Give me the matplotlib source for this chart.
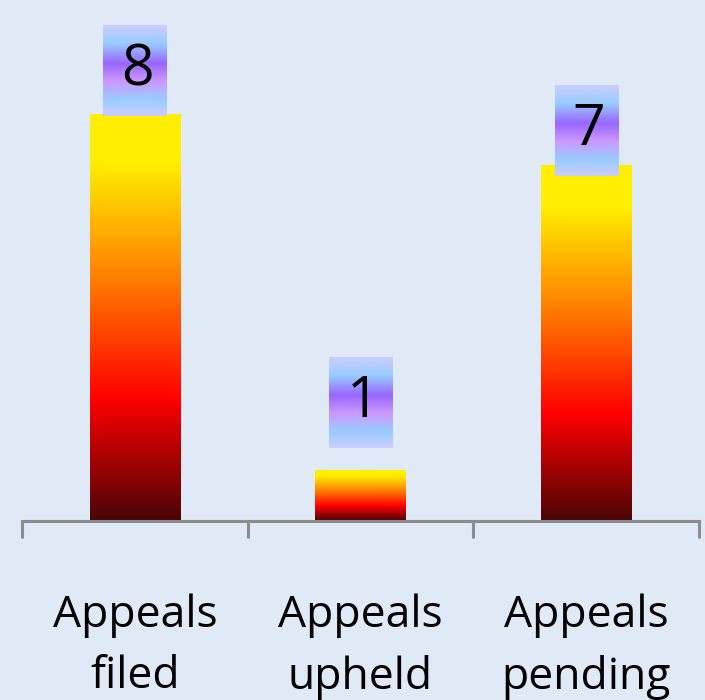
import matplotlib
matplotlib.use("Agg")
import matplotlib.pyplot as plt
import numpy as np
from matplotlib.colors import LinearSegmentedColormap

# ---- data ----
categories = ["Appeals\nfiled", "Appeals\nupheld", "Appeals\npending"]
values = [8, 1, 7]
value_labels = ["8", "1", "7"]

# ---- style / layout ----
label_offsets = [0.85, 1.32, 0.67]
bg = "#dfeaf6"
bar_cmap = LinearSegmentedColormap.from_list(
    "fire",
    [(0.0, "#4a0505"), (0.3, "#ff0000"), (0.6, "#ff8000"), (0.88, "#ffee00"), (1.0, "#ffee00")])
box_cmap = LinearSegmentedColormap.from_list(
    "lbl",
    [(0.0, "#ccccff"), (0.2, "#99ccff"), (0.42, "#9966ff"), (0.62, "#cc99ff"),
     (0.82, "#99ccff"), (1.0, "#ccccff")])

fig = plt.figure(figsize=(7.05, 7.00), dpi=100)
fig.patch.set_facecolor(bg)
ax = fig.add_axes([22 / 705, 179 / 700, (699 - 22) / 705, (521 - 12.25) / 700])
ax.set_facecolor(bg)

x = np.arange(len(categories))
bars = ax.bar(x, values, width=0.4, color="none", edgecolor="none", zorder=2)

grad = np.linspace(0, 1, 256).reshape(-1, 1)
for b in bars:
    x0, y0 = b.get_x(), b.get_y()
    w, h = b.get_width(), b.get_height()
    im = ax.imshow(grad, extent=[x0, x0 + w, y0, y0 + h], origin="lower",
                   aspect="auto", cmap=bar_cmap, zorder=2, interpolation="bilinear")
    im.set_clip_path(b)

box_w, box_h = 0.28, 1.77
for xi, v, lab, off in zip(x, values, value_labels, label_offsets):
    cy = v + off
    ext = [xi - box_w / 2, xi + box_w / 2, cy - box_h / 2, cy + box_h / 2]
    ax.imshow(grad[::-1], extent=ext, origin="lower", aspect="auto",
              cmap=box_cmap, zorder=3, interpolation="bilinear")
    ax.text(xi + 0.01, cy, lab, ha="center", va="center", fontsize=41,
            family="Open Sans", color="black", zorder=4)

ax.set_xlim(-0.5, 2.5)
ax.set_ylim(0, 10)

for s in ["top", "right", "left"]:
    ax.spines[s].set_visible(False)
ax.spines["bottom"].set_color("#8c8c8c")
ax.spines["bottom"].set_linewidth(2.2)
ax.set_yticks([])
ax.set_xticks([-0.5, 0.5, 1.5, 2.5])
ax.set_xticklabels([])
ax.tick_params(axis="x", which="major", direction="out", length=12, width=2.2,
               color="#8c8c8c")
ax.set_xticks(x, minor=True)
ax.set_xticklabels(categories, minor=True, fontsize=32, family="Open Sans",
                   linespacing=1.5)
ax.tick_params(axis="x", which="minor", length=0, pad=52)

fig.savefig("out.png", dpi=100, facecolor=bg)
